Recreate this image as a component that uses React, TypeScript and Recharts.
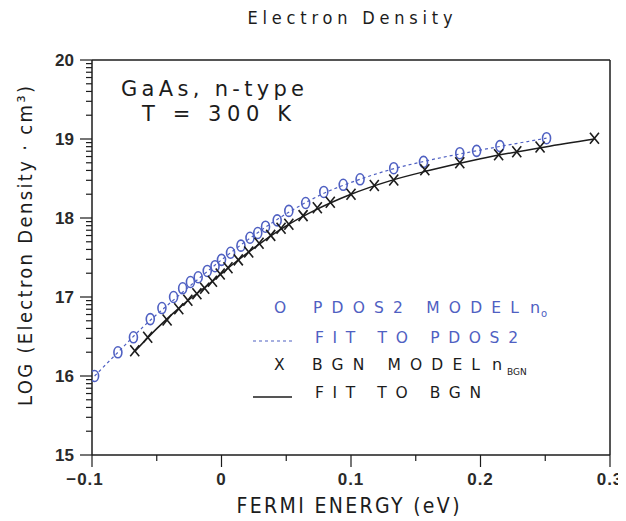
import React from "react";
import { ComposedChart, Scatter, Line, XAxis, YAxis, ReferenceLine } from "recharts";

// PDOS2 model points (circles)
const pdosX = [-0.098, -0.08, -0.068, -0.055, -0.046, -0.037, -0.03, -0.024, -0.018, -0.011, -0.005, 0.0, 0.007, 0.015, 0.022, 0.028, 0.034, 0.043, 0.052, 0.065, 0.079, 0.094, 0.107, 0.133, 0.156, 0.184, 0.197, 0.215, 0.251];
const pdosY = [16.0, 16.3, 16.49, 16.72, 16.86, 17.0, 17.11, 17.19, 17.25, 17.33, 17.39, 17.47, 17.56, 17.65, 17.75, 17.81, 17.89, 17.97, 18.09, 18.19, 18.33, 18.42, 18.49, 18.63, 18.71, 18.82, 18.85, 18.91, 19.01];

// BGN model points (crosses)
const bgnX = [-0.067, -0.057, -0.042, -0.033, -0.026, -0.019, -0.013, -0.007, -0.001, 0.005, 0.013, 0.021, 0.029, 0.038, 0.046, 0.052, 0.063, 0.074, 0.084, 0.1, 0.118, 0.133, 0.157, 0.184, 0.214, 0.228, 0.246, 0.288];
const bgnY = [16.32, 16.49, 16.71, 16.85, 16.96, 17.04, 17.11, 17.2, 17.29, 17.37, 17.47, 17.57, 17.68, 17.78, 17.87, 17.92, 18.03, 18.13, 18.2, 18.3, 18.41, 18.48, 18.61, 18.7, 18.8, 18.84, 18.9, 19.01];

// fitted curves
const pdosFitX = [-0.098, -0.08, -0.06, -0.04, -0.02, 0.0, 0.02, 0.04, 0.06, 0.08, 0.1, 0.13, 0.16, 0.2, 0.251];
const pdosFitY = [16.0, 16.3, 16.63, 16.92, 17.2, 17.47, 17.72, 17.95, 18.15, 18.32, 18.45, 18.61, 18.73, 18.86, 19.01];
const bgnFitX = [-0.067, -0.05, -0.03, -0.01, 0.01, 0.03, 0.05, 0.07, 0.1, 0.13, 0.16, 0.2, 0.25, 0.288];
const bgnFitY = [16.31, 16.6, 16.9, 17.16, 17.43, 17.68, 17.9, 18.08, 18.3, 18.47, 18.6, 18.75, 18.9, 19.0];

const xMajorTicks = [-0.1, 0, 0.1, 0.2, 0.3];
const xMinorTicks = [-0.05, 0.05, 0.15, 0.25];
const yMajorTicks = [15, 16, 17, 18, 19, 20];
const yMinorSteps = [2, 3, 4, 5, 6, 7, 8, 9];

const zip = (xs: number[], ys: number[]) => xs.map((x, i) => ({ x, y: ys[i] }));
const pdosData = zip(pdosX, pdosY);
const bgnData = zip(bgnX, bgnY);
const pdosFit = zip(pdosFitX, pdosFitY);
const bgnFit = zip(bgnFitX, bgnFitY);

const xTicks = [...xMajorTicks, ...xMinorTicks].sort((a, b) => a - b);
const yTicks = [
  ...yMajorTicks,
  ...yMajorTicks.slice(0, -1).flatMap((d) => yMinorSteps.map((k) => d + Math.log10(k))),
].sort((a, b) => a - b);

const W = 618;
const H = 513;
const BLUE = "#4f60c2";
const INK = "#1c1c1c";
const NARROW = "'DejaVu Sans Condensed', 'Liberation Sans Narrow', 'DejaVu Sans', sans-serif";
const WIDE = "'DejaVu Sans', Verdana, sans-serif";
const SANS = "'Liberation Sans', Arial, sans-serif";

function YTick({ x, y, payload }: any) {
  const v = payload.value;
  const major = yMajorTicks.includes(v);
  return (
    <g>
      <line x1={x} x2={x - (major ? 12 : 6)} y1={y} y2={y} stroke={INK} strokeWidth={1.2} />
      {major && (
        <text x={x - 18} y={y} textAnchor="end" dominantBaseline="central" fontFamily={SANS} fontWeight="bold" fontSize={17} fill="#2a2a2a">
          {v}
        </text>
      )}
    </g>
  );
}

function fmtX(v: number) {
  if (Math.abs(v) < 1e-9) return "0";
  return v < 0 ? "\u2212" + Math.abs(v).toFixed(1) : v.toFixed(1);
}

function XTick({ x, y, payload }: any) {
  const v = payload.value;
  const major = xMajorTicks.some((m) => Math.abs(m - v) < 1e-9);
  return (
    <g>
      <line x1={x} x2={x} y1={y} y2={y + (major ? 12 : 6)} stroke={INK} strokeWidth={1.2} />
      {major && (
        <text x={v < 0 ? x - 7 : x} y={y + 30} textAnchor="middle" fontFamily={SANS} fontWeight="bold" fontSize={17} letterSpacing={1} fill="#2a2a2a">
          {fmtX(v)}
        </text>
      )}
    </g>
  );
}

function Circle({ cx, cy }: any) {
  return <ellipse cx={cx} cy={cy} rx={4} ry={5.5} fill="none" stroke={BLUE} strokeWidth={1.6} />;
}

function Cross({ cx, cy }: any) {
  return (
    <path
      d={`M${cx - 4.5},${cy - 5.5}L${cx + 4.5},${cy + 5.5}M${cx - 4.5},${cy + 5.5}L${cx + 4.5},${cy - 5.5}`}
      stroke={INK}
      strokeWidth={1.6}
      fill="none"
    />
  );
}

export default function App() {
  return (
    <div style={{ position: "relative", width: W, height: H }}>
      <ComposedChart width={W} height={H} margin={{ top: 52, right: 16, bottom: 0, left: 0 }}>
        <XAxis
          dataKey="x"
          type="number"
          domain={[-0.1, 0.3]}
          ticks={xTicks}
          interval={0}
          tickSize={0}
          tickMargin={0}
          tickLine={false}
          axisLine={{ stroke: INK, strokeWidth: 1.5 }}
          tick={<XTick />}
          height={66}
          allowDataOverflow
        />
        <YAxis
          dataKey="y"
          type="number"
          domain={[15, 20]}
          ticks={yTicks}
          interval={0}
          tickSize={0}
          tickMargin={0}
          tickLine={false}
          axisLine={{ stroke: INK, strokeWidth: 1.5 }}
          tick={<YTick />}
          width={84}
          allowDataOverflow
        />
        <ReferenceLine y={20} stroke={INK} strokeWidth={1.5} />
        <ReferenceLine x={0.3} stroke={INK} strokeWidth={1.5} />
        <Line data={pdosFit} dataKey="y" type="monotone" stroke={BLUE} strokeWidth={1.2} strokeDasharray="3 3" dot={false} isAnimationActive={false} />
        <Line data={bgnFit} dataKey="y" type="monotone" stroke={INK} strokeWidth={1.5} dot={false} isAnimationActive={false} />
        <Scatter data={pdosData} dataKey="y" shape={<Circle />} isAnimationActive={false} />
        <Scatter data={bgnData} dataKey="y" shape={<Cross />} isAnimationActive={false} />
      </ComposedChart>
      <svg width={W} height={H} style={{ position: "absolute", left: 0, top: 0, pointerEvents: "none" }}>
        <text x={342} y={16} textAnchor="middle" fontFamily={NARROW} fontSize={18} textLength={205} lengthAdjust="spacing" fill={INK}>
          Electron Density
        </text>
        <text x={340} y={505} textAnchor="middle" fontFamily={NARROW} fontSize={21} textLength={223} lengthAdjust="spacing" fill={INK}>
          FERMI ENERGY (eV)
        </text>
        <text transform="translate(24, 238) rotate(-90)" textAnchor="middle" fontFamily={NARROW} fontSize={20} textLength={320} lengthAdjust="spacing" fill={INK}>
          LOG (Electron Density · cm³)
        </text>
        <text x={113} y={88} fontFamily={WIDE} fontSize={21} textLength={183} lengthAdjust="spacing" fill={INK}>
          GaAs, n-type
        </text>
        <text x={134} y={113} fontFamily={WIDE} fontSize={21} textLength={149} lengthAdjust="spacing" fill={INK}>
          T = 300 K
        </text>
        {/* legend */}
        <g fontFamily={WIDE} fontSize={15.5}>
          <text x={266} y={305} fill={BLUE}>O</text>
          <text x={305} y={305} fill={BLUE} textLength={206} lengthAdjust="spacing">PDOS2 MODEL</text>
          <text x={522} y={305} fill={BLUE} fontSize={16}>n</text>
          <text x={533} y={309} fill={BLUE} fontSize={10}>o</text>
          <line x1={245} x2={284} y1={333} y2={333} stroke={BLUE} strokeWidth={1.2} strokeDasharray="3 3" />
          <text x={307} y={335} fill={BLUE} textLength={203} lengthAdjust="spacing">FIT TO PDOS2</text>
          <text x={266} y={362} fill={INK}>X</text>
          <text x={304} y={362} fill={INK} textLength={168} lengthAdjust="spacing">BGN MODEL</text>
          <text x={484} y={362} fill={INK} fontSize={16}>n</text>
          <text x={499} y={367} fill={INK} fontSize={9}>BGN</text>
          <line x1={245} x2={284} y1={389} y2={389} stroke={INK} strokeWidth={1.5} />
          <text x={307} y={390} fill={INK} textLength={166} lengthAdjust="spacing">FIT TO BGN</text>
        </g>
      </svg>
    </div>
  );
}
